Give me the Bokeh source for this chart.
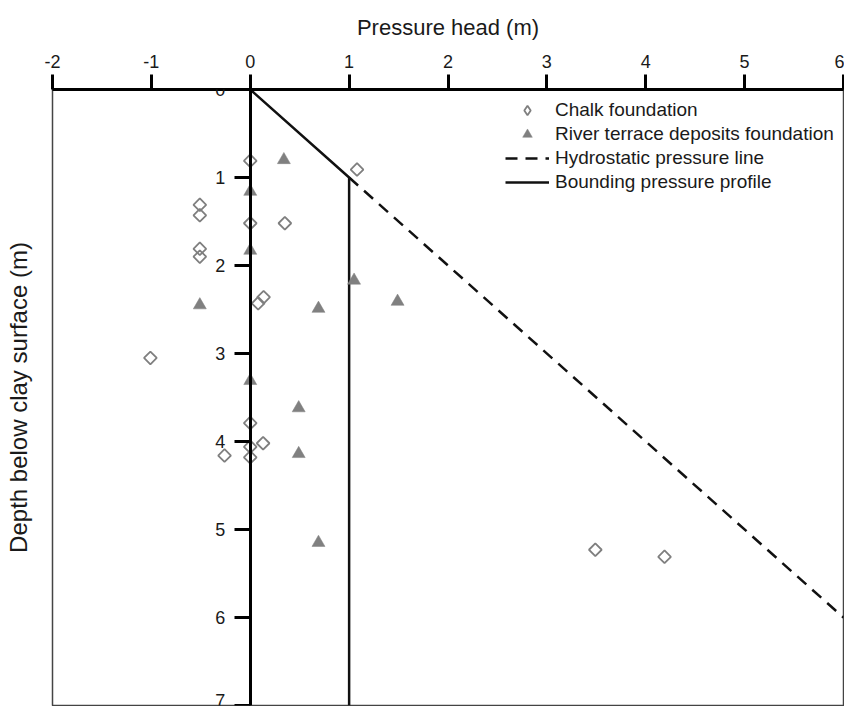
import numpy as np
from bokeh.plotting import figure
from bokeh.models import (Range1d, Legend, LegendItem, FixedTicker, ColumnDataSource,
                          LinearAxis)
from bokeh.embed import file_html
from bokeh.resources import INLINE

# ---- data ----
chalk_head = [0.0, 1.08, -0.51, -0.51, 0.0, 0.35, -0.51, -0.51, 0.135, 0.08,
              -1.01, 0.0, 0.13, 0.0, -0.26, 0.0, 3.49, 4.19]
chalk_depth = [0.81, 0.91, 1.31, 1.43, 1.52, 1.52, 1.81, 1.90, 2.36, 2.43,
               3.05, 3.79, 4.02, 4.06, 4.16, 4.18, 5.23, 5.31]

rtd_head = [0.34, 0.0, 0.0, -0.51, 1.05, 1.49, 0.69, 0.0, 0.49, 0.49, 0.69]
rtd_depth = [0.80, 1.16, 1.83, 2.45, 2.17, 2.41, 2.49, 3.31, 3.62, 4.14, 5.15]

hydro_head = [1, 6]
hydro_depth = [1, 6]

bound_head = [0, 1, 1]
bound_depth = [0, 1, 7]

x_ticks = [-2, -1, 0, 1, 2, 3, 4, 5, 6]
x_tick_labels = {-2: "-2", -1: "-1"}
y_ticks = [0, 1, 2, 3, 4, 5, 6, 7]

FONT = "Liberation Sans"
TXT = "#1a1a1a"

p = figure(width=844, height=706,
           x_range=Range1d(-2, 6), y_range=Range1d(7, 0),
           x_axis_location="above",
           output_backend="svg", toolbar_location=None,
           min_border_left=52, min_border_right=1,
           min_border_top=89, min_border_bottom=1)
p.grid.visible = False
p.outline_line_color = "#444444"
p.outline_line_width = 1.5
p.background_fill_color = "white"
p.border_fill_color = "white"

# top axis
xa = p.xaxis[0]
xa.ticker = FixedTicker(ticks=x_ticks)
xa.major_label_overrides = x_tick_labels
xa.axis_label = "Pressure head (m)"
xa.axis_label_text_font = FONT
xa.axis_label_text_font_size = "22px"
xa.axis_label_text_font_style = "normal"
xa.axis_label_text_color = TXT
xa.axis_label_standoff = 12
xa.major_label_text_font = FONT
xa.major_label_text_font_size = "18px"
xa.major_label_text_color = TXT
xa.major_label_standoff = 7
xa.major_tick_out = 15
xa.major_tick_in = 0
xa.minor_tick_out = 0
xa.minor_tick_in = 0
xa.axis_line_width = 3
xa.axis_line_color = "black"
xa.major_tick_line_width = 3
xa.major_tick_line_color = "black"

# left axis: only carries the title
yt = p.yaxis[0]
yt.ticker = FixedTicker(ticks=[])
yt.axis_line_color = None
yt.major_tick_out = 0
yt.major_tick_in = 0
yt.minor_tick_out = 0
yt.minor_tick_in = 0
yt.major_label_standoff = 0
yt.axis_label = "Depth below clay surface (m)"
yt.axis_label_text_font = FONT
yt.axis_label_text_font_size = "24px"
yt.axis_label_text_font_style = "normal"
yt.axis_label_text_color = TXT
yt.axis_label_standoff = 21

# depth axis drawn at x = 0
ya = LinearAxis(fixed_location=0, ticker=FixedTicker(ticks=y_ticks))
ya.major_label_text_font = FONT
ya.major_label_text_font_size = "18px"
ya.major_label_text_color = TXT
ya.major_label_standoff = 9
ya.major_tick_out = 16
ya.major_tick_in = 0
ya.minor_tick_out = 0
ya.minor_tick_in = 0
ya.axis_line_width = 3
ya.axis_line_color = "black"
ya.major_tick_line_width = 3
ya.major_tick_line_color = "black"
p.add_layout(ya, "left")

bound = p.line(bound_head, bound_depth, line_color="#111111", line_width=2.5)
hydro = p.line(hydro_head, hydro_depth, line_color="#111111", line_width=2.5,
               line_dash="12 8")

chalk_src = ColumnDataSource(dict(x=chalk_head, y=chalk_depth))
rtd_src = ColumnDataSource(dict(x=rtd_head, y=rtd_depth))

p.scatter("x", "y", source=chalk_src, marker="square", size=9,
          angle=np.pi / 4, fill_color=None, line_color="#7f7f7f",
          line_width=1.8)
rtd = p.scatter("x", "y", source=rtd_src, marker="triangle", size=13,
                fill_color="#808080", line_color="#808080", line_width=0.5)

# hidden diamond renderer on the same data, used only for the legend key
chalk_key = p.scatter("x", "y", source=chalk_src, marker="diamond", size=13,
                      fill_color=None, line_color="#7f7f7f", line_width=1.8,
                      visible=False)

legend = Legend(items=[
    LegendItem(label="Chalk foundation", renderers=[chalk_key]),
    LegendItem(label="River terrace deposits foundation", renderers=[rtd]),
    LegendItem(label="Hydrostatic pressure line", renderers=[hydro]),
    LegendItem(label="Bounding pressure profile", renderers=[bound]),
], location=(453, 511))
legend.padding = 0
legend.margin = 0
legend.spacing = 0
legend.glyph_width = 44
legend.glyph_height = 24
legend.label_height = 20
legend.label_standoff = 6
legend.label_text_font = FONT
legend.label_text_font_size = "19px"
legend.label_text_color = TXT
legend.border_line_alpha = 0
legend.background_fill_alpha = 0
legend.click_policy = "none"
p.add_layout(legend)

open("out.html", "w").write(file_html(p, INLINE))
